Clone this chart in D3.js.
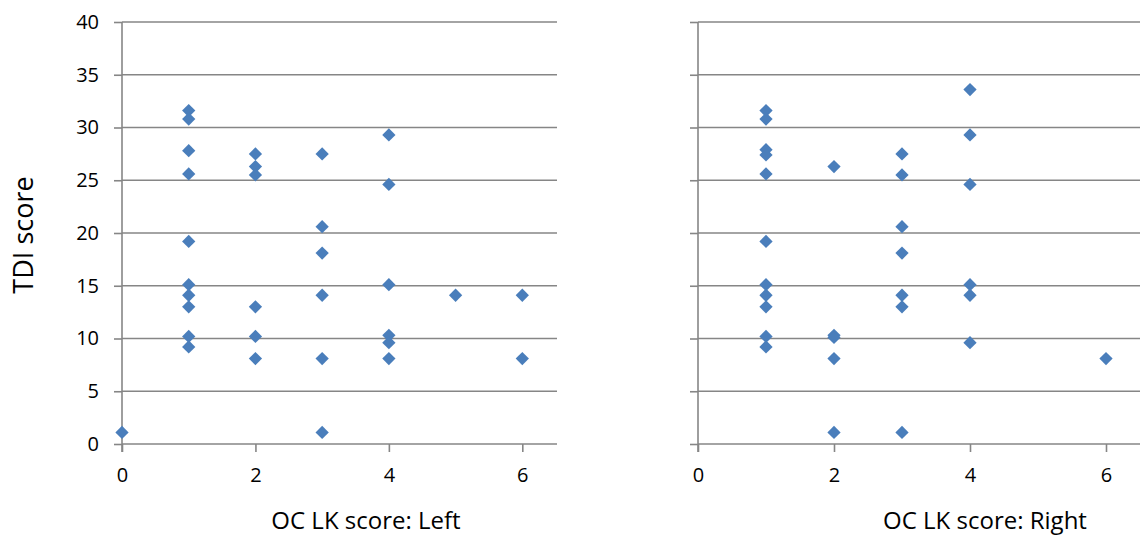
<!DOCTYPE html>
<html lang="en">

<head>
	<meta charset="UTF-8">
	<title>TDI vs OC LK</title>
	<script type="text/javascript" src="https://cdn.jsdelivr.net/npm/d3@7/dist/d3.min.js" charset="UTF-8"></script>
	<style>
		body { margin: 0; background: #fff; }
		text { font-family: "Open Sans", sans-serif; fill: #000; }
	</style>
</head>

<body>
	<script type="text/javascript">
	// data
	let leftX = [0, 1, 1, 1, 1, 1, 1, 1, 1, 1, 1, 2, 2, 2, 2, 2, 2, 3, 3, 3, 3, 3, 3, 4, 4, 4, 4, 4, 4, 5, 6, 6]
	let leftY = [1.1, 31.6, 30.8, 27.8, 25.6, 19.2, 15.1, 14.1, 13.0, 10.2, 9.2,
		27.5, 26.3, 25.5, 13.0, 10.2, 8.1,
		27.5, 20.6, 18.1, 14.1, 8.1, 1.1,
		29.3, 24.6, 15.1, 10.3, 9.6, 8.1,
		14.1, 14.1, 8.1]

	let rightX = [1, 1, 1, 1, 1, 1, 1, 1, 1, 1, 1, 2, 2, 2, 2, 2, 3, 3, 3, 3, 3, 3, 3, 4, 4, 4, 4, 4, 4, 6]
	let rightY = [31.6, 30.8, 27.9, 27.4, 25.6, 19.2, 15.1, 14.1, 13.0, 10.2, 9.2,
		26.3, 10.3, 10.1, 8.1, 1.1,
		27.5, 25.5, 20.6, 18.1, 14.1, 13.0, 1.1,
		33.6, 29.3, 24.6, 15.1, 14.1, 9.6,
		8.1]

	let yTicks = [0, 5, 10, 15, 20, 25, 30, 35, 40]
	let xTicks = [0, 2, 4, 6]
	let yLabel = 'TDI score'
	let leftTitle = 'OC LK score: Left'
	let rightTitle = 'OC LK score: Right'

	let width = 1140,
		height = 537;
	let gridColor = '#868686',
		markColor = '#4a7ebb';

	let svg = d3.select('body').append('svg')
		.attr('width', width)
		.attr('height', height)

	let yScale = d3.scaleLinear()
		.domain([0, 40])
		.range([444, 22])

	let diamond = d3.symbol().type(d3.symbolSquare).size(88)

	function panel(xs, ys, x0, x1, xMax, title, titleX, showLabels) {
		let xScale = d3.scaleLinear()
			.domain([0, xMax])
			.range([x0, x1])

		let g = svg.append('g')

		// horizontal gridlines
		g.selectAll('line.grid')
			.data(yTicks)
			.enter()
			.append('line')
			.attr('class', 'grid')
			.attr('x1', x0)
			.attr('x2', x1)
			.attr('y1', d => yScale(d))
			.attr('y2', d => yScale(d))
			.attr('stroke', gridColor)
			.attr('stroke-width', 1.6)

		// y axis
		let yAxis = d3.axisLeft(yScale)
			.tickValues(yTicks)
			.tickSize(8)
			.tickPadding(15)
			.tickFormat(showLabels ? d3.format('d') : '')
		let gy = g.append('g')
			.attr('transform', `translate(${x0},0)`)
			.call(yAxis)
		gy.select('.domain').remove()
		gy.append('line')
			.attr('y1', yScale(0) + 8)
			.attr('y2', yScale(40))
			.attr('stroke', gridColor)
			.attr('stroke-width', 1.6)

		// x axis
		let xAxis = d3.axisBottom(xScale)
			.tickValues(xTicks)
			.tickSize(8)
			.tickPadding(16)
			.tickFormat(d3.format('d'))
		let gx = g.append('g')
			.attr('transform', `translate(0,${yScale(0)})`)
			.call(xAxis)
		gx.select('.domain').remove()

		g.selectAll('.tick line')
			.attr('stroke', gridColor)
			.attr('stroke-width', 1.6)
		g.selectAll('.tick text')
			.attr('font-size', 20)
			.style('font-size', '20px')
			.attr('fill', '#000')

		g.selectAll('path.pt')
			.data(d3.zip(xs, ys))
			.enter()
			.append('path')
			.attr('class', 'pt')
			.attr('d', diamond)
			.attr('transform', d => `translate(${xScale(d[0])},${yScale(d[1])}) rotate(45)`)
			.attr('fill', markColor)

		svg.append('text')
			.attr('x', titleX)
			.attr('y', 529)
			.attr('text-anchor', 'middle')
			.style('font-size', '24px')
			.text(title)
	}

	panel(leftX, leftY, 122, 557, 6.52, leftTitle, 366, true)
	panel(rightX, rightY, 698, 1242, 8, rightTitle, 985, false)

	svg.append('text')
		.attr('transform', 'translate(33,235) rotate(-90)')
		.attr('text-anchor', 'middle')
		.style('font-size', '27px')
		.text(yLabel)
	</script>
</body>

</html>
